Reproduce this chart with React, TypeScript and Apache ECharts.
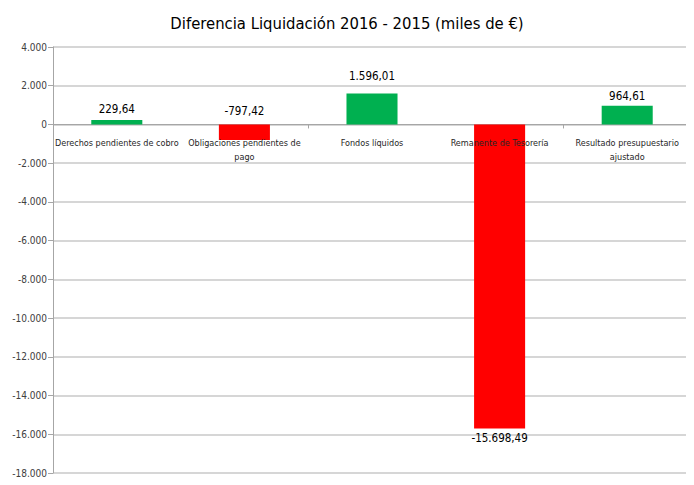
import React, { useEffect, useRef } from "react";
import * as echarts from "echarts";

const categories = [
  "Derechos pendientes de cobro",
  "Obligaciones pendientes de\npago",
  "Fondos líquidos",
  "Remanente de Tesorería",
  "Resultado presupuestario\najustado",
];
const values = [229.64, -797.42, 1596.01, -15698.49, 964.61];
const yMin = -18000;
const yMax = 4000;
const yInterval = 2000;

const GREEN = "#00b050";
const RED = "#ff0000";
const FONT = "'DejaVu Sans Condensed', 'Liberation Sans Narrow', Roboto, sans-serif";

function fmtThousands(n: number): string {
  const s = Math.abs(Math.round(n)).toString().replace(/\B(?=(\d{3})+(?!\d))/g, ".");
  return (n < 0 ? "-" : "") + s;
}
function fmtValue(n: number): string {
  const abs = Math.abs(n);
  const int = Math.floor(abs + 1e-9);
  const dec = Math.round((abs - int) * 100);
  const intStr = int.toString().replace(/\B(?=(\d{3})+(?!\d))/g, ".");
  return (n < 0 ? "-" : "") + intStr + "," + String(dec).padStart(2, "0");
}

export default function App() {
  const ref = useRef<HTMLDivElement>(null);
  useEffect(() => {
    if (!ref.current) return;
    const chart = echarts.init(ref.current, undefined, { renderer: "svg" });
    // label placement (style only): negative small bar label sits above the zero line
    const labelPlacement = [
      { position: "top", distance: 5 },
      { position: "top", distance: 7 },
      { position: "top", distance: 12 },
      { position: "bottom", distance: 4 },
      { position: "top", distance: 4 },
    ];
    chart.setOption({
      animation: false,
      backgroundColor: "#ffffff",
      title: {
        text: "Diferencia Liquidación 2016 - 2015 (miles de €)",
        left: "center",
        top: 10,
        textStyle: { fontFamily: FONT, fontSize: 16.5, fontWeight: "normal", color: "#000" },
      },
      graphic: [
        {
          type: "rect",
          shape: { x: 4.5, y: 4.5, width: 700, height: 477 },
          style: { fill: "none", stroke: "#bcbcbc", lineWidth: 1.5 },
          silent: true,
        },
      ],
      grid: { left: 53, right: 3, top: 47, bottom: 12, containLabel: false, outerBoundsMode: "none" },
      xAxis: {
        type: "category",
        data: categories,
        axisLine: { onZero: true, lineStyle: { color: "#a6a6a6", width: 1 } },
        axisTick: { show: true, length: 4, lineStyle: { color: "#a6a6a6" } },
        axisLabel: { show: false },
      },
      yAxis: {
        type: "value",
        min: yMin,
        max: yMax,
        interval: yInterval,
        axisLine: { show: true, lineStyle: { color: "#a6a6a6" } },
        axisTick: { show: true, length: 5, lineStyle: { color: "#a6a6a6" } },
        splitLine: { show: true, lineStyle: { color: "#c8c8c8", width: 1.5 } },
        axisLabel: {
          fontFamily: FONT,
          fontSize: 10,
          color: "#404040",
          margin: 6,
          formatter: (v: number) => fmtThousands(v),
        },
      },
      series: [
        {
          type: "bar",
          barWidth: "40%",
          data: values.map((v, i) => ({
            value: v,
            itemStyle: { color: v >= 0 ? GREEN : RED },
            label: labelPlacement[i],
          })),
          label: {
            show: true,
            fontFamily: FONT,
            fontSize: 11.5,
            color: "#000",
            formatter: (p: any) => fmtValue(p.value),
          },
          z: 2,
        },
        {
          type: "bar",
          barWidth: "40%",
          barGap: "-100%",
          silent: true,
          itemStyle: { color: "transparent" },
          data: categories.map(() => 0),
          label: {
            show: true,
            position: "bottom",
            distance: 12,
            fontFamily: FONT,
            fontSize: 9,
            lineHeight: 14,
            color: "#262626",
            align: "center",
            formatter: (p: any) => categories[p.dataIndex],
          },
          z: 3,
        },
      ],
    });
    return () => chart.dispose();
  }, []);
  return <div ref={ref} style={{ width: 694, height: 485, margin: -8 }} />;
}
